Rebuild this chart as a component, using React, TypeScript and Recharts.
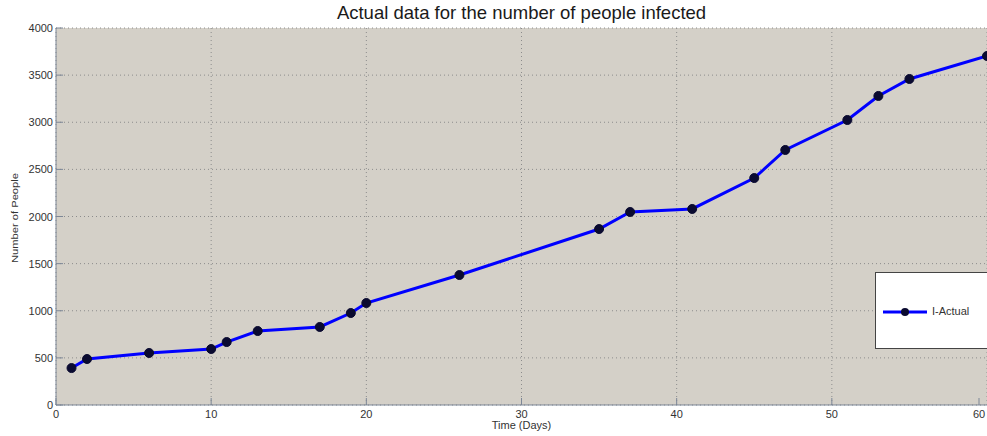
import { CartesianGrid, Line, LineChart, XAxis, YAxis } from "recharts"

// observed infections per day
const days = [1, 2, 6, 10, 11, 13, 17, 19, 20, 26, 35, 37, 41, 45, 47, 51, 53, 55, 60]
const infected = [392, 488, 552, 594, 668, 785, 828, 976, 1082, 1379, 1867, 2048, 2080, 2408, 2706, 3024, 3279, 3459, 3703]

const xTicks = [0, 10, 20, 30, 40, 50, 60]
const yTicks = [0, 500, 1000, 1500, 2000, 2500, 3000, 3500, 4000]

const AXIS = "#7d8797"
const BG = "#d4d0c8"
const FONT = "'Liberation Sans', Arial, sans-serif"

const data = days.map((d, i) => ({ day: d, value: infected[i] }))

const BottomTick = (props: any) => {
  const { x, y, payload } = props
  return (
    <g>
      <line x1={x} x2={x} y1={y} y2={y - 7} stroke={AXIS} />
      <text x={x} y={y + 13} textAnchor="middle" fontSize={11} fontFamily={FONT} fill="#333">
        {payload.value}
      </text>
    </g>
  )
}

const TopTick = (props: any) => {
  const { x, y } = props
  return <line x1={x} x2={x} y1={y} y2={y + 7} stroke={AXIS} />
}

const LeftTick = (props: any) => {
  const { x, y, payload } = props
  return (
    <g>
      <line x1={x} x2={x + 7} y1={y} y2={y} stroke={AXIS} />
      <text x={x - 3} y={y + 4} textAnchor="end" fontSize={11} fontFamily={FONT} fill="#333">
        {payload.value}
      </text>
    </g>
  )
}

const RightTick = (props: any) => {
  const { x, y } = props
  return <line x1={x - 7} x2={x} y1={y} y2={y} stroke={AXIS} />
}

const LegendBox = () => (
  <div
    style={{
      position: "absolute",
      left: 875,
      top: 272,
      width: 114,
      height: 77,
      background: "#fff",
      border: "1px solid #444",
      boxSizing: "border-box",
      fontFamily: FONT,
      fontSize: 11,
      color: "#333",
    }}
  >
    <svg width={50} height={12} style={{ position: "absolute", left: 7, top: 33 }}>
      <line x1={0} x2={44} y1={6} y2={6} stroke="#0000ff" strokeWidth={3} />
      <circle cx={22} cy={6} r={4} fill="#0a0a30" />
    </svg>
    <span style={{ position: "absolute", left: 56, top: 32 }}>I-Actual</span>
  </div>
)

export default function App() {
  return (
    <div style={{ position: "absolute", left: 0, top: 0, width: 987, height: 436, background: "#fff", overflow: "hidden" }}>
      <div
        style={{
          position: "absolute",
          left: 56,
          width: 931,
          top: 2,
          textAlign: "center",
          fontFamily: FONT,
          fontSize: 18.5,
          color: "#1a1a1a",
        }}
      >
        Actual data for the number of people infected
      </div>
      <div
        style={{
          position: "absolute",
          left: 15,
          top: 218,
          transform: "translate(-50%, -50%) rotate(-90deg) scaleX(1.24)",
          whiteSpace: "nowrap",
          fontFamily: FONT,
          fontSize: 9,
          color: "#333",
        }}
      >
        Number of People
      </div>
      <div
        style={{
          position: "absolute",
          left: 56,
          width: 931,
          top: 419,
          textAlign: "center",
          fontFamily: FONT,
          fontSize: 11,
          color: "#333",
        }}
      >
        Time (Days)
      </div>
      <div style={{ position: "absolute", left: 0, top: 0 }}>
        <LineChart width={987} height={436} data={data} margin={{ top: 28, right: 0, left: 0, bottom: 0 }}>
          <CartesianGrid
            xAxisId="bottom"
            yAxisId="left"
            fill={BG}
            stroke="#8c8c8c"
            strokeDasharray="1 3"
          />
          <XAxis
            xAxisId="bottom"
            dataKey="day"
            type="number"
            domain={[0, 60]}
            ticks={xTicks}
            height={31}
            tickSize={0}
            tickMargin={0}
            tick={BottomTick}
            axisLine={{ stroke: AXIS }}
            allowDataOverflow
          />
          <XAxis
            xAxisId="top"
            orientation="top"
            dataKey="day"
            type="number"
            domain={[0, 60]}
            ticks={xTicks}
            height={0}
            tickSize={0}
            tickMargin={0}
            tick={TopTick}
            axisLine={{ stroke: AXIS }}
          />
          <YAxis
            yAxisId="left"
            type="number"
            domain={[0, 4000]}
            ticks={yTicks}
            width={56}
            tickSize={0}
            tickMargin={0}
            tick={LeftTick}
            axisLine={{ stroke: AXIS }}
          />
          <YAxis
            yAxisId="right"
            orientation="right"
            type="number"
            domain={[0, 4000]}
            ticks={yTicks}
            width={0}
            tickSize={0}
            tickMargin={0}
            tick={RightTick}
            axisLine={{ stroke: AXIS }}
          />
          <Line
            xAxisId="bottom"
            yAxisId="left"
            dataKey="value"
            name="I-Actual"
            stroke="#0000ff"
            strokeWidth={3}
            dot={{ r: 4.5, fill: "#0a0a30", stroke: "#0a0a30", strokeWidth: 1 }}
            isAnimationActive={false}
          />
        </LineChart>
      </div>
      <LegendBox />
    </div>
  )
}
